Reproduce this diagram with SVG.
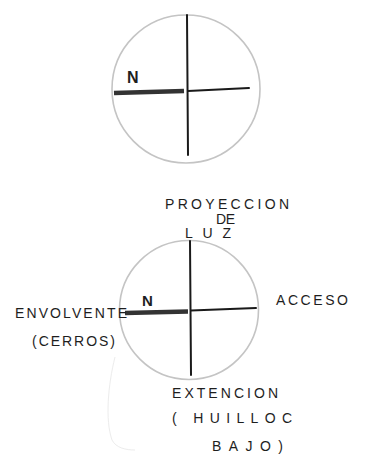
<svg xmlns="http://www.w3.org/2000/svg" width="371" height="462" viewBox="0 0 371 462">
<style>
.circ{fill:none;stroke:#c4c4c4;stroke-width:1.6}
.ax{fill:none;stroke:#1a1a1a;stroke-width:2;stroke-linecap:round}
.north{fill:none;stroke:#333;stroke-width:4.5;stroke-linecap:butt}
.lbl{font-family:"Liberation Sans",Arial,sans-serif;font-size:14px;fill:#1e1e1e}
.nl{font-family:"Liberation Sans",Arial,sans-serif;font-weight:bold;fill:#1e1e1e}
.faint{fill:none;stroke:#ececec;stroke-width:1}
</style>
<rect width="371" height="462" fill="#fff"/>
<g id="compass-top">
<circle class="circ" cx="186" cy="89" r="74"/>
<path class="ax" d="M187 15 L188 155"/>
<path class="ax" d="M188 91 L249 88"/>
<path class="north" d="M114 93 L184 91"/>
<text class="nl" x="127" y="83" font-size="16">N</text>
</g>
<g id="compass-bottom">
<circle class="circ" cx="189" cy="310" r="69.5"/>
<path class="ax" d="M190 241 L191 375"/>
<path class="ax" d="M191 310.5 L256 308"/>
<path class="north" d="M125 313 L188 311.5"/>
<text class="nl" x="142" y="306" font-size="15">N</text>
</g>
<g id="label-proyeccion">
<text class="lbl" x="165" y="209" textLength="124" lengthAdjust="spacing">PROYECCION</text>
<text class="lbl" x="216" y="224" font-size="12" textLength="19" lengthAdjust="spacing">DE</text>
<text class="lbl" x="185" y="238" font-size="13" textLength="46" lengthAdjust="spacing">LUZ</text>
</g>
<g id="label-acceso">
<text class="lbl" x="276" y="305" font-size="15" textLength="72" lengthAdjust="spacing">ACCESO</text>
</g>
<g id="label-envolvente">
<text class="lbl" x="15" y="318" textLength="112" lengthAdjust="spacing">ENVOLVENTE</text>
<text class="lbl" x="32" y="346" font-size="16" textLength="83" lengthAdjust="spacing">(CERROS)</text>
</g>
<g id="label-extencion">
<text class="lbl" x="172" y="398" textLength="106" lengthAdjust="spacing">EXTENCION</text>
<text class="lbl" x="172" y="423" font-size="15" textLength="120" lengthAdjust="spacing">( HUILLOC</text>
<text class="lbl" x="212" y="451" font-size="16" textLength="71" lengthAdjust="spacing">BAJO)</text>
</g>
<g id="connectors">
<path class="faint" d="M115 357 C108 385 105 420 112 440 C116 448 126 450 135 450"/>
</g>
</svg>
